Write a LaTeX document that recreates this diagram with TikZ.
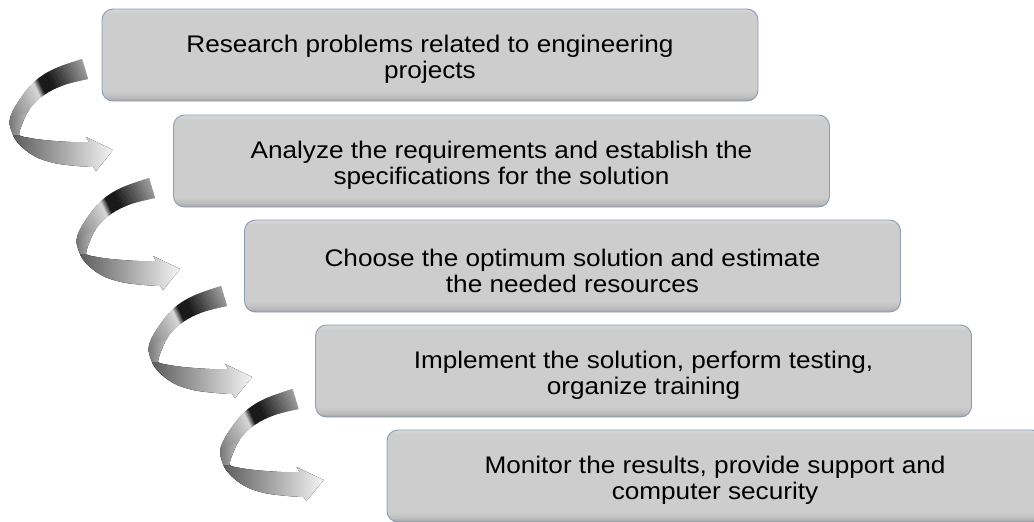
\documentclass[tikz,border=0pt]{standalone}
\usepackage{fontspec}
\setmainfont{Liberation Sans}[FakeStretch=1.09]
\usetikzlibrary{calc}
\definecolor{bxA}{RGB}{160,160,160}
\definecolor{bxB}{RGB}{188,188,188}
\definecolor{bxC}{RGB}{205,205,205}
\definecolor{bxD}{RGB}{216,216,216}
\definecolor{bxline}{RGB}{140,155,182}
\definecolor{ribL}{RGB}{118,118,118}
\definecolor{ribR}{RGB}{196,196,196}
\definecolor{botL}{RGB}{92,92,92}
\definecolor{botR}{RGB}{244,244,244}
\pgfdeclareverticalshading{boxshade}{100bp}{color(0bp)=(bxA); color(25bp)=(bxA); color(27bp)=(bxB); color(30.5bp)=(bxC); color(72.5bp)=(bxC); color(75bp)=(bxD); color(100bp)=(bxD)}
\newcommand\ribbonpath{plot[smooth,tension=0.6] coordinates {(-30,-91) (-58,-81) (-78,-68) (-94,-48) (-102,-32) (-101,-20) (-94,-7) (-78,6) (-58,13) (-35,16) (-19,17)} -- (-16,21) -- (1,0) -- (-26,-13) -- (-23,-8) -- plot[smooth,tension=0.6] coordinates {(-23,-8) (-41,-8) (-68,-10) (-88,-13) (-93,-15)} -- plot[smooth,tension=0.6] coordinates {(-93,-15) (-91,-23) (-83,-40) (-68,-55) (-48,-65) (-24,-71)} -- cycle}
\newcommand\ribbonat[1]{%
  \begin{scope}[shift={#1}]
    \begin{scope}
      \clip \ribbonpath;
      \fill[ribR] (-80,-95) rectangle (2,25);
      \fill[left color=ribL, right color=ribR] (-103,-95) rectangle (-82,25);
      \fill[left color=botL, right color=botR] (-100,-15) rectangle (1,25);
      \begin{scope}
        \clip (-120,-120) -- (10,-120) -- (10,-55) -- (-120,-30) -- cycle;
        \begin{scope}[shift={(-70,-62)}, rotate=25]
          \foreach \t in {-55,...,60} {%
            \pgfmathtruncatemacro\L{(\t<-40) ? 52 : ((\t<-6) ? (52+(\t+40)*32/34) : ((\t<0) ? (84-(\t+6)*74/6) : ((\t<10) ? 10 : ((\t<47) ? (10+(\t-10)*52/37) : 62))))}%
            \fill[white!\L!black] (\t,-90) rectangle (\t+1.4,90);
          }
        \end{scope}
      \end{scope}
    \end{scope}
  \end{scope}}
\tikzset{
  stepbox/.style={draw=bxline, line width=0.9pt, rounded corners=11pt, shade, shading=boxshade, minimum width=656, minimum height=92, inner sep=0pt},
  steptext/.style={align=center, font=\fontsize{24}{26}\selectfont, inner sep=0pt, text=black}
}
\begin{document}
\begin{tikzpicture}[x=1pt,y=-1pt]
\useasboundingbox (0,0) rectangle (1034,522);
\begin{scope}
\clip (0,0) rectangle (1034,522);
\node[stepbox] (b1) at (430,55) {};
\node[stepbox] (b2) at (501.5,161) {};
\node[stepbox] (b3) at (572.5,266) {};
\node[stepbox] (b4) at (643.5,371) {};
\node[stepbox] (b5) at (715,476) {};
\node[steptext] (t1) at ([yshift=-4.5pt]b1.center) {Research problems related to engineering\\projects};
\node[steptext] (t2) at ([yshift=-4.5pt]b2.center) {Analyze the requirements and establish the\\specifications for the solution};
\node[steptext] (t3) at ([yshift=-4.5pt]b3.center) {Choose the optimum solution and estimate\\the needed resources};
\node[steptext] (t4) at ([yshift=-4.5pt]b4.center) {Implement the solution, perform testing,\\organize training};
\node[steptext] (t5) at ([yshift=-4.5pt]b5.center) {Monitor the results, provide support and\\computer security};
\ribbonat{($(b2.west)+(-61,-11)$)}
\ribbonat{($(b3.west)+(-65,3)$)}
\ribbonat{($(b4.west)+(-64,6)$)}
\ribbonat{($(b5.west)+(-64,4)$)}
\end{scope}
\end{tikzpicture}
\end{document}
